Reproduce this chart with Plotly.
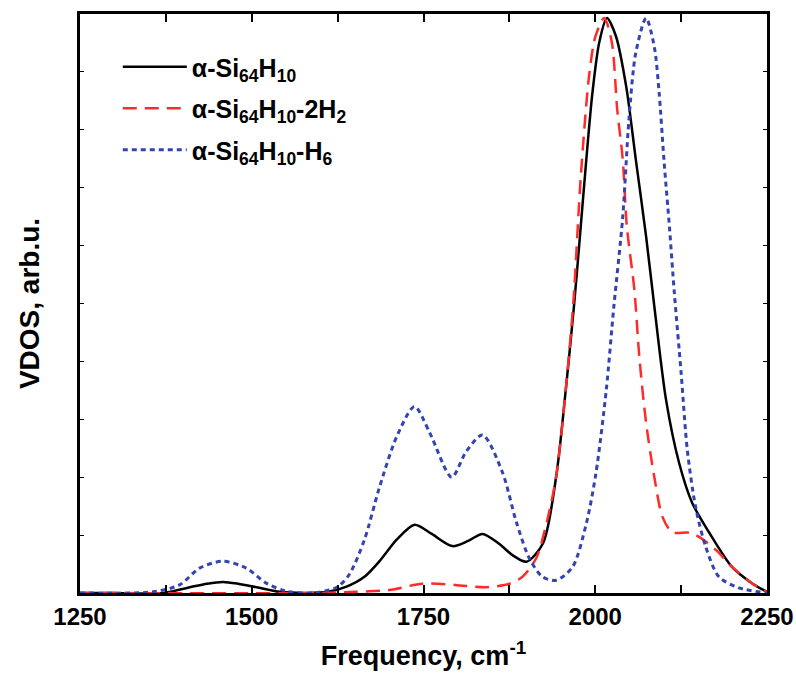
import plotly.graph_objects as go

# --- data (y in arbitrary units) ---
x_black = [1250, 1300, 1371, 1410, 1435, 1458, 1480, 1507, 1541, 1580, 1610, 1638, 1664, 1686,
           1711, 1737, 1762, 1792, 1815, 1836, 1860, 1880, 1900, 1924, 1943, 1957, 1969, 1977,
           1987, 1996, 2006, 2017, 2030, 2045, 2059, 2074, 2086, 2103, 2122, 2141, 2166, 2199,
           2228, 2250]
y_black = [0, 0, 0, 0.10, 0.16, 0.19, 0.16, 0.10, 0.02, 0.0, 0.02, 0.11, 0.28, 0.55,
           0.92, 1.18, 1.02, 0.81, 0.90, 1.02, 0.85, 0.65, 0.54, 0.86, 2.0, 3.5, 4.95, 6.06,
           7.49, 8.65, 9.52, 9.93, 9.62, 8.75, 7.49, 6.16, 4.95, 3.34, 2.25, 1.56, 1.04, 0.45,
           0.17, 0.02]

x_red = [1250, 1600, 1650, 1700, 1748, 1796, 1841, 1875, 1894, 1914, 1928, 1943, 1957, 1968,
         1979, 1991, 2000, 2013, 2024, 2032, 2040, 2046, 2057, 2064, 2074, 2086, 2098, 2112,
         2137, 2151, 2176, 2199, 2228, 2250]
y_red = [0, 0, 0.02, 0.05, 0.16, 0.14, 0.10, 0.16, 0.28, 0.60, 1.15, 2.0, 3.5, 5.0,
         7.2, 8.93, 9.6, 9.93, 9.52, 8.35, 7.49, 6.33, 5.23, 4.1, 2.94, 2.0, 1.31, 1.05,
         1.04, 0.97, 0.74, 0.45, 0.17, 0.02]

x_blue = [1250, 1356, 1395, 1424, 1458, 1492, 1521, 1550, 1590, 1624, 1642, 1664, 1686, 1711,
          1737, 1759, 1791, 1812, 1836, 1865, 1885, 1904, 1923, 1943, 1967, 1987, 2001, 2016,
          2027, 2040, 2049, 2059, 2074, 2086, 2093, 2100, 2108, 2115, 2125, 2134, 2146, 2161,
          2180, 2209, 2250]
y_blue = [0, 0.02, 0.14, 0.43, 0.55, 0.43, 0.17, 0.03, 0, 0.10, 0.32, 0.92, 1.83, 2.70,
          3.22, 2.77, 2.00, 2.44, 2.73, 2.08, 1.23, 0.60, 0.28, 0.22, 0.45, 1.20, 2.07, 3.50,
          4.94, 6.49, 8.17, 9.33, 9.93, 9.43, 8.64, 7.48, 6.32, 5.20, 3.80, 2.47, 1.49, 0.79,
          0.28, 0.09, 0]

names = ["α-Si<sub>64</sub>H<sub>10</sub>",
         "α-Si<sub>64</sub>H<sub>10</sub>-2H<sub>2</sub>",
         "α-Si<sub>64</sub>H<sub>10</sub>-H<sub>6</sub>"]
x_ticks = [1250, 1500, 1750, 2000, 2250]

FONT = "Liberation Sans, Arial, Helvetica, sans-serif"

fig = go.Figure()
fig.add_trace(go.Scatter(x=x_black, y=y_black, mode="lines", name=names[0], legendgroup="a",
                         line=dict(color="#000000", width=2.5, shape="spline", smoothing=0.8)))
fig.add_trace(go.Scatter(x=x_red, y=y_red, mode="lines", name=names[1], legendgroup="b",
                         line=dict(color="#ff2a2a", width=2.5, dash="14px,8px",
                                   shape="spline", smoothing=0.8)))
fig.add_trace(go.Scatter(x=x_blue, y=y_blue, mode="lines", name=names[2], legendgroup="c",
                         line=dict(color="#3344b0", width=3, dash="5px,4px",
                                   shape="spline", smoothing=0.8)))

fig.update_layout(
    width=796, height=689,
    margin=dict(l=80, r=29, t=14, b=96),
    paper_bgcolor="white", plot_bgcolor="white",
    font=dict(family=FONT, color="black"),
    showlegend=True,
    legend=dict(x=0.055, y=0.948, xanchor="left", yanchor="top",
                bgcolor="rgba(0,0,0,0)", itemwidth=64, tracegroupgap=6,
                font=dict(family=FONT, size=25, weight="bold", color="black")),
    xaxis=dict(range=[1250, 2250], tickvals=x_ticks, ticktext=[str(v) for v in x_ticks],
               ticks="inside", ticklen=8, tickwidth=1.5, tickcolor="black",
               minor=dict(dtick=125, tick0=1250, ticks="inside", ticklen=8, tickwidth=1.5,
                          tickcolor="black"),
               showline=True, linecolor="black", linewidth=3, mirror="ticks",
               showgrid=False, zeroline=False, automargin=False,
               tickfont=dict(family=FONT, size=24, weight="bold"),
               title=dict(text="Frequency, cm<sup>-1</sup>", standoff=18,
                          font=dict(family=FONT, size=27, weight="bold"))),
    yaxis=dict(range=[0, 10], dtick=1, tick0=0, showticklabels=False,
               ticks="inside", ticklen=4, tickwidth=1.2, tickcolor="black",
               showline=True, linecolor="black", linewidth=3, mirror="ticks",
               showgrid=False, zeroline=False, automargin=False,
               title=dict(text="VDOS, arb.u.", standoff=30,
                          font=dict(family=FONT, size=28, weight="bold"))),
)

fig.write_html("out.html", config={"displayModeBar": False},
               post_script="document.body.style.margin='0';document.body.style.overflow='hidden';")
